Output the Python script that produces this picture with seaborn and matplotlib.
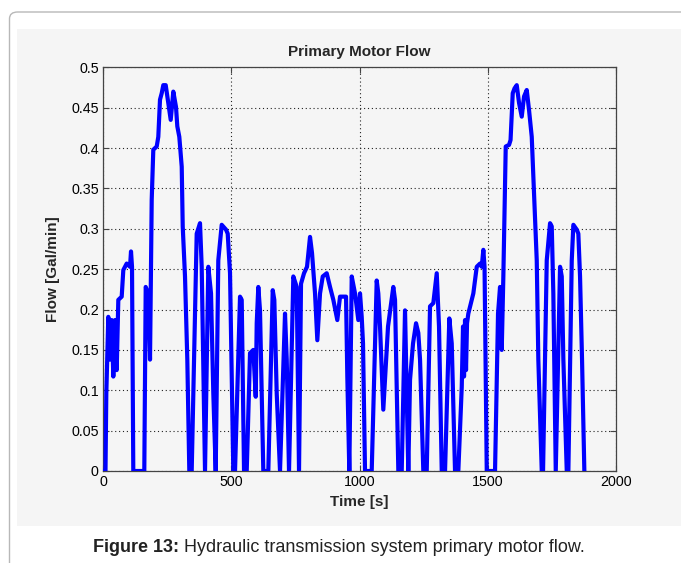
import numpy as np
import pandas as pd
import matplotlib
matplotlib.use("Agg")
import matplotlib.pyplot as plt
from matplotlib.patches import FancyBboxPatch, Rectangle
import seaborn as sns

# ---- data ----
time_s = [0, 9.7, 12.9, 20.7, 27.3, 33.9, 40.2, 46.8, 53.4, 59.7, 72.9, 79.2, 92.4, 105.3,
          109.2, 113.1, 115.0, 118.1, 161.0, 166.5, 176.6, 183.3, 189.9, 196.1, 209.4, 215.6,
          222.2, 228.9, 235.1, 244.5, 254.6, 264.0, 274.1, 284.6, 289.7, 297.5, 306.9, 310.8,
          319.7, 328.7, 336.5, 345.8, 365.3, 378.2, 384.8, 397.7, 410.6, 421.1, 430.1, 439.4,
          449.5, 462.8, 479.6, 486.2, 495.2, 508.0, 514.7, 534.2, 540.8, 549.8, 560.3, 573.2,
          586.0, 595.4, 599.3, 605.5, 612.1, 625.0, 644.5, 661.7, 667.9, 677.3, 690.1, 709.6,
          716.3, 725.2, 742.0, 755.3, 764.2, 772.0, 783.7, 795.4, 807.1, 814.9, 826.6, 835.6,
          846.1, 856.7, 872.2, 885.1, 898.0, 913.5, 924.1, 947.5, 952.5, 960.3, 969.7, 982.5,
          995.4, 1002.0, 1008.6, 1013.7, 1021.5, 1047.6, 1067.1, 1073.3, 1080.0, 1092.8, 1111.2,
          1131.8, 1138.5, 1151.4, 1164.6, 1177.5, 1190.3, 1197.0, 1208.7, 1220.4, 1229.3, 1236.0,
          1248.8, 1262.1, 1275.0, 1287.8, 1301.1, 1310.0, 1320.6, 1333.5, 1350.2, 1359.6, 1372.4,
          1385.3, 1398.6, 1403.6, 1407.5, 1411.4, 1415.3, 1419.2, 1424.3, 1437.6, 1443.8, 1457.1,
          1469.9, 1476.6, 1482.8, 1487.5, 1491.4, 1496.1, 1528.4, 1540.1, 1547.9, 1554.5, 1560.8,
          1570.1, 1583.0, 1588.9, 1597.4, 1604.4, 1613.0, 1622.0, 1632.5, 1641.5, 1652.0, 1661.0,
          1671.5, 1677.7, 1691.0, 1697.2, 1710.5, 1715.6, 1730.0, 1742.9, 1749.5, 1755.7, 1765.1,
          1781.9, 1788.5, 1794.8, 1808.0, 1814.3, 1827.5, 1833.8, 1847.0, 1853.2, 1859.8, 1867.6,
          1876.6]
flow_gpm = [0, 0, 0.096, 0.191, 0.138, 0.187, 0.117, 0.187, 0.125, 0.212, 0.216, 0.249, 0.257, 0.253,
            0.272, 0.253, 0.158, 0, 0, 0.228, 0.220, 0.138, 0.336, 0.398, 0.402, 0.414,
            0.460, 0.468, 0.478, 0.478, 0.456, 0.435, 0.470, 0.451, 0.427, 0.414, 0.377, 0.303,
            0.241, 0.138, 0, 0, 0.294, 0.307, 0.253, 0, 0.253, 0.220, 0.096, 0,
            0.261, 0.305, 0.299, 0.294, 0.245, 0, 0, 0.216, 0.212, 0, 0, 0.146,
            0.150, 0.092, 0.183, 0.228, 0.199, 0, 0, 0.224, 0.212, 0.096, 0, 0.195,
            0.138, 0, 0.241, 0.228, 0, 0.232, 0.245, 0.253, 0.290, 0.270, 0.220, 0.162,
            0.220, 0.241, 0.245, 0.228, 0.212, 0.187, 0.216, 0.216, 0.117, 0, 0.241, 0.220,
            0.187, 0.220, 0.191, 0.158, 0, 0, 0.236, 0.220, 0.179, 0.076, 0.179,
            0.228, 0.212, 0, 0, 0.199, 0, 0.113, 0.158, 0.183, 0.171, 0.138,
            0, 0, 0.204, 0.208, 0.245, 0.179, 0, 0, 0.189, 0.158, 0,
            0, 0.104, 0.179, 0.117, 0.187, 0.125, 0.183, 0.195, 0.212, 0.220, 0.253,
            0.257, 0.253, 0.274, 0.253, 0.138, 0, 0, 0.195, 0.228, 0.150, 0.241,
            0.402, 0.404, 0.410, 0.468, 0.474, 0.478, 0.456, 0.439, 0.464, 0.472, 0.447,
            0.414, 0.365, 0.261, 0.138, 0, 0, 0.261, 0.307, 0.303, 0.220, 0,
            0.253, 0.241, 0.138, 0, 0, 0.261, 0.305, 0.299, 0.294, 0.241, 0.138,
            0]

title_text = "Primary Motor Flow"
xlabel_text = "Time [s]"
ylabel_text = "Flow [Gal/min]"
caption_bold = "Figure 13:"
caption_rest = " Hydraulic transmission system primary motor flow."
x_ticks = [0, 500, 1000, 1500, 2000]
y_ticks = [0, 0.05, 0.1, 0.15, 0.2, 0.25, 0.3, 0.35, 0.4, 0.45, 0.5]
y_ticklabels = ["0", "0.05", "0.1", "0.15", "0.2", "0.25", "0.3", "0.35", "0.4", "0.45", "0.5"]

df = pd.DataFrame({"Time": time_s, "Flow": flow_gpm})

sns.set_style("white")
plt.rcParams["font.family"] = ["Liberation Sans", "DejaVu Sans"]

W, H = 681, 563
fig = plt.figure(figsize=(W / 100, H / 100), dpi=100)
fig.patch.set_facecolor("white")

# rounded frame around the figure box (runs past right and bottom edges)
frame = FancyBboxPatch((9.5 / W, -0.2), 1.2, 1 - 12 / H + 0.2,
                       boxstyle="round,pad=0,rounding_size=0.012",
                       transform=fig.transFigure, facecolor="white",
                       edgecolor="#b8b8b8", linewidth=1.0, zorder=-2)
fig.patches.append(frame)
panel = Rectangle((16.5 / W, 1 - 526 / H), 1.0, (526 - 29) / H,
                  transform=fig.transFigure, facecolor="#f5f5f5",
                  edgecolor="none", zorder=-1)
fig.patches.append(panel)

ax = fig.add_axes([103 / W, 1 - 471 / H, (616 - 103) / W, (471 - 67.4) / H])
ax.set_zorder(2)
ax.set_facecolor("#f5f5f5")

sns.lineplot(data=df, x="Time", y="Flow", ax=ax, estimator=None, sort=False,
             color="#0000ff", linewidth=3.0, zorder=3)

ax.set_xlim(0, 2000)
ax.set_ylim(0, 0.5)
ax.set_xticks(x_ticks)
ax.set_yticks(y_ticks)
ax.set_yticklabels(y_ticklabels)
ax.grid(True, color="#222222", linestyle=(0, (1, 2.5)), linewidth=0.8)
ax.tick_params(direction="in", length=4, width=0.8, colors="#444444",
               labelcolor="black", labelsize=10.3, top=True, right=True,
               bottom=True, left=True, pad=3)
for s in ax.spines.values():
    s.set_visible(True)
    s.set_color("#444444")
    s.set_linewidth(0.9)

ax.set_title(title_text, fontsize=11, fontweight="bold", pad=8)
ax.set_xlabel(xlabel_text, fontsize=11, fontweight="bold", labelpad=4)
ax.set_ylabel(ylabel_text, fontsize=11, fontweight="bold", labelpad=8)

# caption: bold lead + regular rest
fig.canvas.draw()
r = fig.canvas.get_renderer()
t1 = fig.text(93 / W, 1 - 548 / H, caption_bold, fontsize=13, fontweight="bold",
              va="center", ha="left", color="#222222", zorder=5)
bb = t1.get_window_extent(renderer=r)
fig.text(bb.x1 / W, 1 - 548 / H, caption_rest, fontsize=13, va="center",
         ha="left", color="#222222", zorder=5)

fig.savefig("out.png", dpi=100, facecolor="white")
